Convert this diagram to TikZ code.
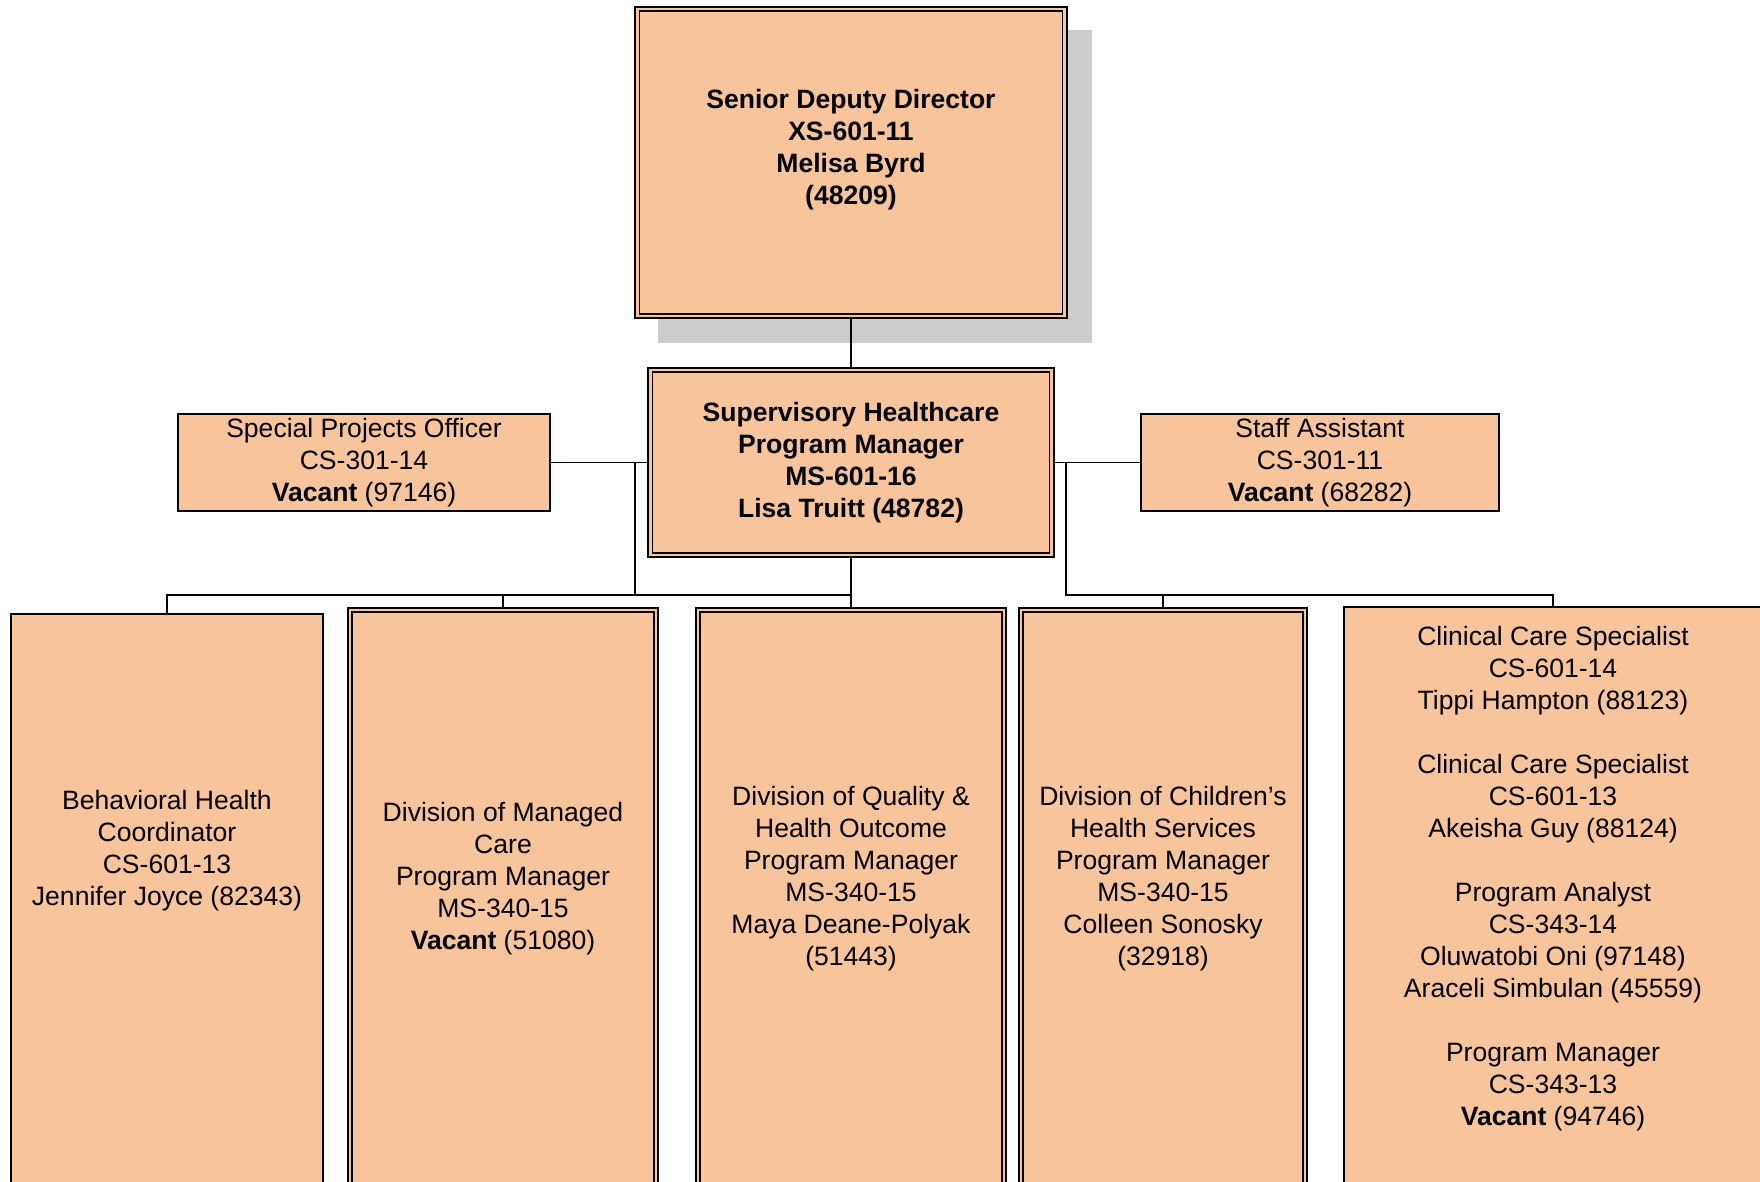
\documentclass[tikz,border=0pt]{standalone}
\usepackage{fontspec}
\setmainfont{Liberation Sans}
\usetikzlibrary{calc,backgrounds}
\definecolor{boxfill}{HTML}{F8C49B}
\definecolor{shadowgray}{HTML}{CCCCCC}

\begin{document}
\begin{tikzpicture}[x=0.01cm,y=-0.01cm,
    every node/.style={font=\fontsize{7.55}{9.1}\selectfont,align=center,inner sep=0pt},
    bold/.style={font=\fontsize{7.55}{9.1}\selectfont\bfseries},
    unitbox/.style={draw,line width=0.55pt,fill=boxfill},
    dblbox/.style={draw,line width=0.5pt,fill=boxfill,double=boxfill,double distance=0.7pt},
    link/.style={line width=0.5pt}]

    \useasboundingbox (0,0) rectangle (1760,1181);
    \clip (0,0) rectangle (1760,1181);

    \node[dblbox,bold,minimum width=4.27cm,minimum height=3.07cm] (sdd) at (851,162.5)
        {Senior Deputy Director\\XS-601-11\\Melisa Byrd\\(48209)\\\mbox{}};
    \node[dblbox,bold,minimum width=4.01cm,minimum height=1.85cm] (spm) at (851,462.5)
        {Supervisory Healthcare\\Program Manager\\MS-601-16\\Lisa Truitt (48782)};
    \node[unitbox,minimum width=3.72cm,minimum height=0.97cm] (spo) at (364,462.5)
        {Special Projects Officer\\CS-301-14\\\textbf{Vacant} (97146)};
    \node[unitbox,minimum width=3.58cm,minimum height=0.97cm] (sa) at (1320,462.5)
        {Staff Assistant\\CS-301-11\\\textbf{Vacant} (68282)};

    % lower row
    \node[unitbox,minimum width=3.12cm,minimum height=6.16cm] (bhc) at (167,922) {};
    \node[dblbox,minimum width=3.06cm,minimum height=6.2cm] (dmc) at (503,920) {};
    \node[dblbox,minimum width=3.06cm,minimum height=6.2cm] (dqho) at (851,920) {};
    \node[dblbox,minimum width=2.84cm,minimum height=6.2cm] (dchs) at (1163,920) {};
    \node[unitbox,minimum width=4.18cm,minimum height=6.23cm] (ccs) at (1553,918.5) {};

    \node (bhc-t) at (167,851)
        {Behavioral Health\\Coordinator\\CS-601-13\\Jennifer Joyce (82343)};
    \node (dmc-t) at (503,879)
        {Division of Managed\\Care\\Program Manager\\MS-340-15\\\textbf{Vacant} (51080)};
    \node (dqho-t) at (851,879)
        {Division of Quality \&\\Health Outcome\\Program Manager\\MS-340-15\\Maya Deane-Polyak\\(51443)};
    \node (dchs-t) at (1163,879)
        {Division of Children’s\\Health Services\\Program Manager\\MS-340-15\\Colleen Sonosky\\(32918)};
    \node (ccs-t) at (1553,879)
        {Clinical Care Specialist\\CS-601-14\\Tippi Hampton (88123)\\[\baselineskip]
         Clinical Care Specialist\\CS-601-13\\Akeisha Guy (88124)\\[\baselineskip]
         Program Analyst\\CS-343-14\\Oluwatobi Oni (97148)\\Araceli Simbulan (45559)\\[\baselineskip]
         Program Manager\\CS-343-13\\\textbf{Vacant} (94746)};

    \coordinate (lj) at (635,462.5);
    \coordinate (rj) at (1066,462.5);
    \coordinate (bus) at (0,595);

    \begin{scope}[on background layer]
        \fill[shadowgray] (658,30) rectangle (1092,343);
        \draw[link] (sdd.south) -- (spm.north);
        \draw[link] (spo.east) -- (spm.west);
        \draw[link] (spm.east) -- (sa.west);
        \draw[link] (lj) -- (lj |- bus) -| (bhc.north);
        \draw[link] (lj |- bus) -| (spm.south);
        \draw[link] (spm.south) -- (dqho.north);
        \draw[link] (dmc.north) -- (dmc.north |- bus);
        \draw[link] (rj) -- (rj |- bus) -| (ccs.north);
        \draw[link] (dchs.north) -- (dchs.north |- bus);
    \end{scope}
\end{tikzpicture}
\end{document}
